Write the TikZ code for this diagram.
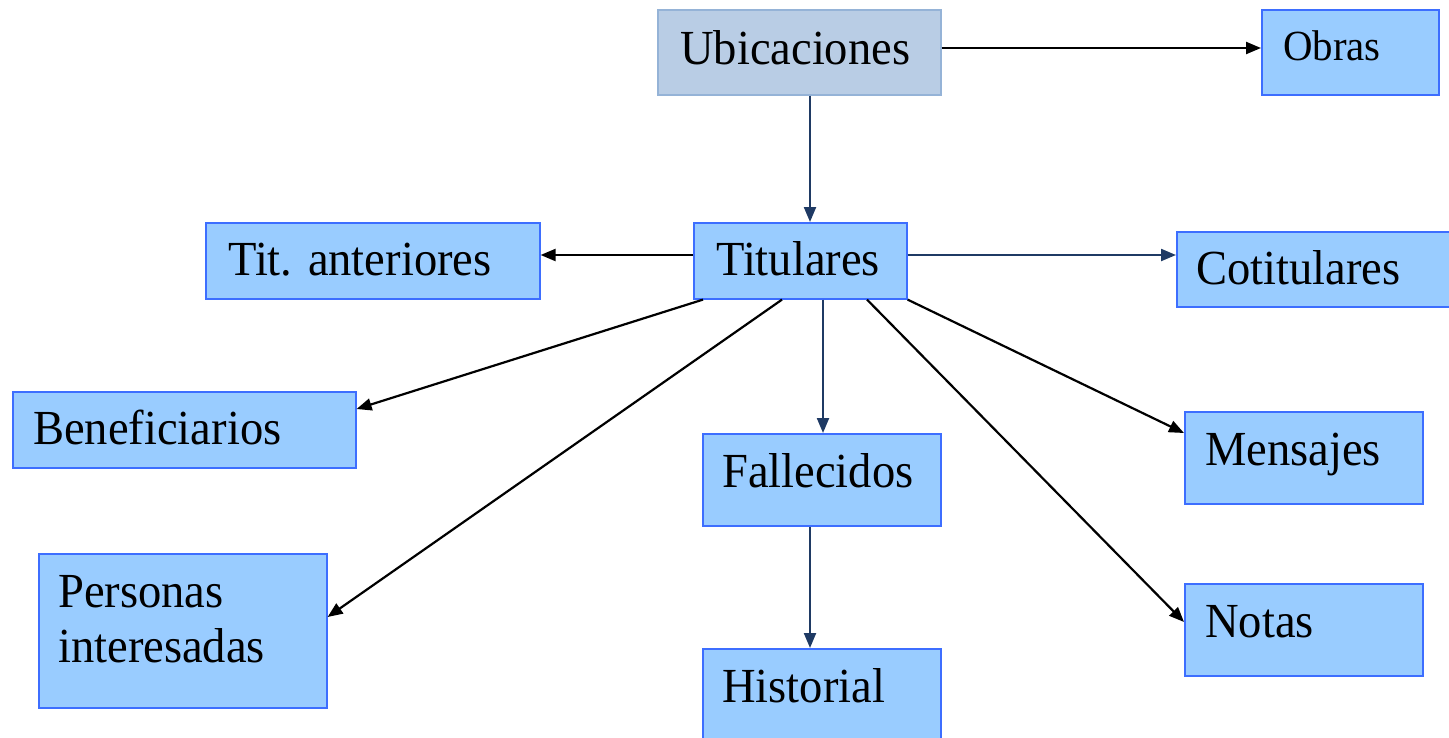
\documentclass[tikz,border=0pt]{standalone}
\usepackage{fontspec}
\setmainfont{Liberation Serif}
\newfontfamily\tnr[FakeStretch=0.95]{Liberation Serif}
\usetikzlibrary{arrows.meta,calc}
\definecolor{boxfill}{HTML}{99CCFF}
\definecolor{boxdraw}{HTML}{3D6EFF}
\definecolor{topfill}{HTML}{B9CDE5}
\definecolor{topdraw}{HTML}{95B3D7}
\definecolor{navy}{HTML}{1F3A64}
\tikzset{
  box/.style={draw=boxdraw, fill=boxfill, line width=1.6pt, inner sep=0pt, anchor=north west},
  topbox/.style={draw=topdraw, fill=topfill, line width=1.6pt, inner sep=0pt, anchor=north west},
  lbl/.style={anchor=base west, inner sep=0pt, font=\tnr\fontsize{49}{56}\selectfont},
  arr/.style={line width=2.2pt, draw=black, -{Triangle[length=15pt,width=12pt]}},
  narr/.style={line width=2.2pt, draw=navy, -{Triangle[length=15pt,width=12pt]}, color=navy},
}
\begin{document}
\begin{tikzpicture}[x=1pt,y=-1pt]
\useasboundingbox (0,0) rectangle (1449,737);
% boxes
\node[topbox, minimum width=283pt, minimum height=85pt] (ubi) at (657,9) {};
\node[box, minimum width=177pt, minimum height=85pt] (obr) at (1261,9) {};
\node[box, minimum width=213pt, minimum height=76pt] (tit) at (693,222) {};
\node[box, minimum width=334pt, minimum height=76pt] (ant) at (205,222) {};
\node[box, minimum width=275pt, minimum height=75pt] (cot) at (1176,231) {};
\node[box, minimum width=343pt, minimum height=76pt] (ben) at (12,391) {};
\node[box, minimum width=238pt, minimum height=92pt] (fal) at (702,433) {};
\node[box, minimum width=238pt, minimum height=92pt] (men) at (1184,411) {};
\node[box, minimum width=288pt, minimum height=154pt] (per) at (38,553) {};
\node[box, minimum width=238pt, minimum height=92pt] (not) at (1184,583) {};
\node[box, minimum width=238pt, minimum height=100pt] (his) at (702,648) {};
% labels
\node[lbl] (ubit) at (680,64) {Ubicaciones};
\node[lbl, font=\tnr\fontsize{43}{50}\selectfont] (obrt) at (1283,60) {Obras};
\node[lbl] (titt) at (716,275) {Titulares};
\node[lbl] (antt) at (228,275) {Tit. anteriores};
\node[lbl] (cott) at (1196,284) {Cotitulares};
\node[lbl] (bent) at (33,444) {Beneficiarios};
\node[lbl] (falt) at (722,487) {Fallecidos};
\node[lbl] (ment) at (1205,465) {Mensajes};
\node[lbl] (pert1) at (58,607) {Personas};
\node[lbl] (pert2) at (58,662) {interesadas};
\node[lbl] (nott) at (1205,637) {Notas};
\node[lbl] (hist) at (722,702) {Historial};
% connectors
\draw[arr] (ubi.east |- 0,48) -- (obr.west |- 0,48);
\draw[narr] (ubi.south -| 810,0) -- (tit.north -| 810,0);
\draw[arr] (tit.west |- 0,255) -- (ant.east |- 0,255);
\draw[narr] (tit.east |- 0,255) -- (cot.west |- 0,255);
\draw[arr] (tit.south -| 703,0) -- (ben.east |- 0,409);
\draw[arr] (tit.south -| 782,0) -- (per.east |- 0,617);
\draw[narr] (tit.south -| 823,0) -- (fal.north -| 823,0);
\draw[arr] (tit.south -| 867,0) -- (not.west |- 0,622);
\draw[arr] (tit.south east) -- (men.west |- 0,433);
\draw[narr] (fal.south -| 810,0) -- (his.north -| 810,0);
\end{tikzpicture}
\end{document}
